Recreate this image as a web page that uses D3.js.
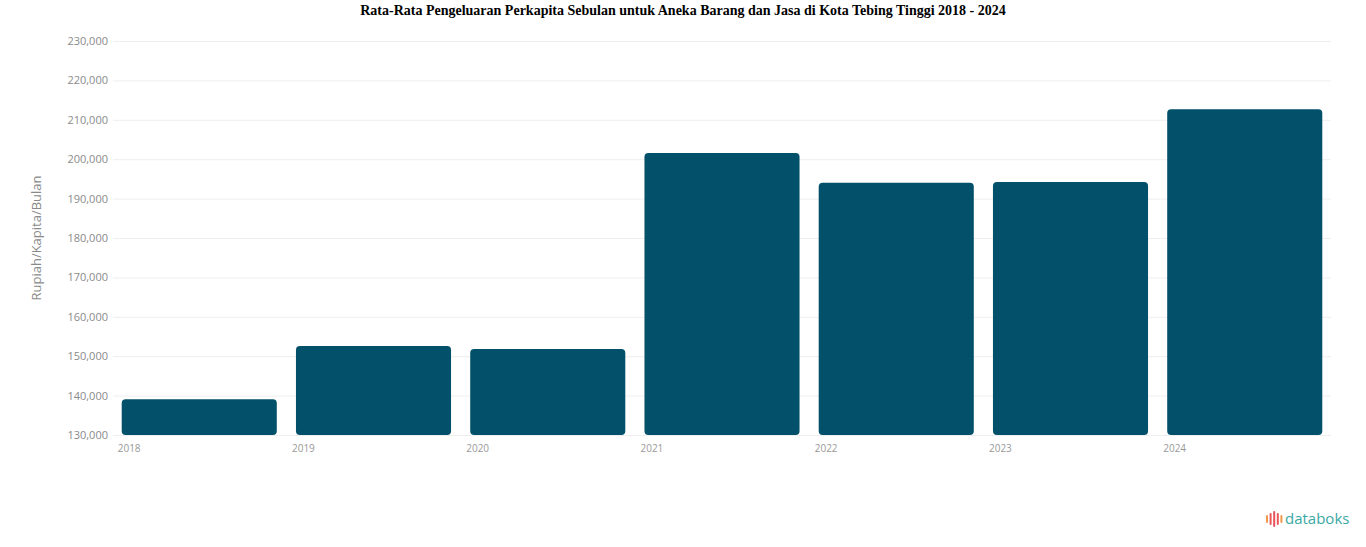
<!DOCTYPE html>
<html><head><meta charset="utf-8">
<script src="https://cdn.jsdelivr.net/npm/d3@7"></script>
<style>body{margin:0;background:#fff;overflow:hidden}</style>
</head><body><svg id="c" width="1366" height="547"></svg>
<script>
const years = ["2018","2019","2020","2021","2022","2023","2024"];
const values = [139100, 152600, 151800, 201600, 194000, 194200, 212700];
const yTicks = [130000,140000,150000,160000,170000,180000,190000,200000,210000,220000,230000];
const title = "Rata-Rata Pengeluaran Perkapita Sebulan untuk Aneka Barang dan Jasa di Kota Tebing Tinggi 2018 - 2024";
const yTitle = "Rupiah/Kapita/Bulan";

const svg = d3.select("#c");
const m = {l:113, r:1331, t:41, b:435};
const x = d3.scaleBand().domain(years).range([m.l, m.r]).paddingInner(0.11).paddingOuter(0.05);
const y = d3.scaleLinear().domain([130000, 230000]).range([m.b, m.t]);

svg.append("text").attr("x",683).attr("y",15).attr("text-anchor","middle")
  .attr("font-family","Liberation Serif, Times New Roman, serif").attr("font-weight","bold")
  .attr("font-size",14).attr("fill","#000").text(title);

const ya = svg.append("g").attr("transform",`translate(${m.l},0)`)
  .call(d3.axisLeft(y).tickValues(yTicks).tickSize(-(m.r-m.l)).tickPadding(5).tickFormat(d3.format(",")));
ya.select(".domain").remove();
ya.selectAll(".tick line").attr("stroke","#eeeeee");
ya.selectAll(".tick text").attr("fill","#8a8a8a").attr("font-size",11).attr("font-family","Open Sans, sans-serif");

svg.append("text").attr("transform","translate(41,238) rotate(-90)").attr("text-anchor","middle")
  .attr("font-family","Open Sans, sans-serif").attr("font-size",13).attr("fill","#8a8a8a").text(yTitle);

svg.append("g").selectAll("rect").data(years).join("rect")
  .attr("x",d=>x(d)).attr("width",x.bandwidth())
  .attr("y",(d,i)=>y(values[i])).attr("height",(d,i)=>y(130000)-y(values[i]))
  .attr("rx",4).attr("fill","#03506a");

svg.append("g").selectAll("text").data(years).join("text")
  .attr("x",d=>x(d)-4).attr("y",452)
  .attr("font-family","Open Sans, sans-serif").attr("font-size",10).attr("fill","#999").text(d=>d);

// databoks logo
const lg = svg.append("g").attr("transform","translate(1266,511)");
const barsH = [8,12,16,12,8];
const barsC = ["#f2994a","#eb5757","#e8505b","#eb5757","#f2994a"];
lg.selectAll("rect").data(barsH).join("rect")
  .attr("x",(d,i)=>i*3.6).attr("y",d=>8-d/2).attr("width",2).attr("height",d=>d).attr("rx",1)
  .attr("fill",(d,i)=>barsC[i]);
lg.append("text").attr("x",19).attr("y",13).attr("font-family","Open Sans, sans-serif")
  .attr("font-size",15).attr("fill","#3aa8a4").text("databoks");
</script></body></html>
